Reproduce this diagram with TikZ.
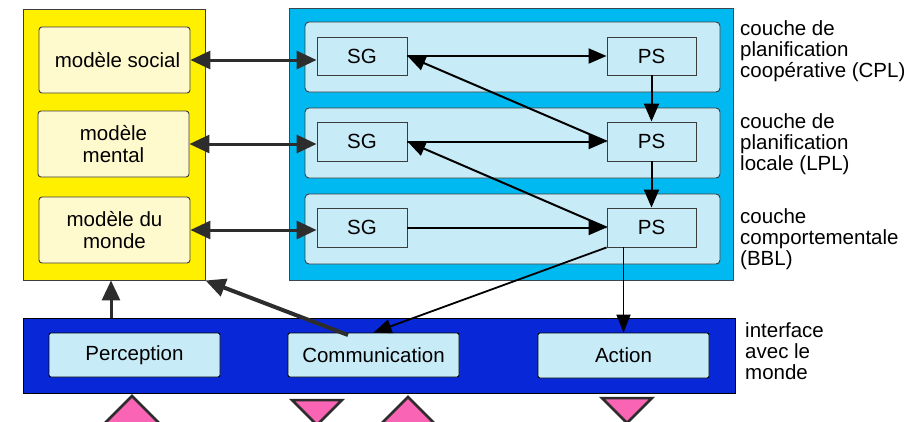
\documentclass[tikz,border=0pt]{standalone}
\usepackage{fontspec}
\setmainfont{Liberation Sans}
\usetikzlibrary{arrows.meta}

\definecolor{modelyellow}{RGB}{255,240,0}
\definecolor{paleyellow}{RGB}{255,250,205}
\definecolor{layercyan}{RGB}{0,185,240}
\definecolor{palecyan}{RGB}{200,235,248}
\definecolor{ifaceblue}{RGB}{8,40,216}
\definecolor{tripink}{RGB}{250,100,180}
\definecolor{arrowgray}{RGB}{45,45,45}
\definecolor{edgegray}{RGB}{60,60,60}

\tikzset{
  box/.style={draw=edgegray, line width=0.9pt, inner sep=0pt, align=center,
    font=\fontsize{20.5}{22}\selectfont},
  modelbox/.style={box, fill=paleyellow, rounded corners=3pt},
  layerbox/.style={draw=edgegray, line width=0.9pt, fill=palecyan, rounded corners=4pt},
  unitbox/.style={box, fill=palecyan},
  ifacebox/.style={box, fill=palecyan, rounded corners=2pt, draw=black},
  sidelabel/.style={anchor=west, align=left, inner sep=0pt,
    font=\fontsize{20.5}{21}\selectfont},
  thickarrow/.style={draw=arrowgray, line width=3pt,
    -{Triangle[length=20pt,width=18pt]}},
  bothways/.style={draw=arrowgray, line width=3pt,
    {Triangle[length=20pt,width=18pt]}-{Triangle[length=20pt,width=18pt]}},
  flow/.style={draw=black, line width=2pt,
    -{Triangle[length=18pt,width=15pt]}},
  thinflow/.style={draw=black, line width=1.8pt,
    -{Triangle[length=18pt,width=14pt]}},
  port/.style={fill=tripink, draw=arrowgray, line width=2.5pt, line join=miter},
}

\begin{document}
\begin{tikzpicture}[x=1pt, y=-1pt]
\useasboundingbox (0,0) rectangle (922,421);

% agent models
\node[draw=edgegray, line width=0.9pt, fill=modelyellow, minimum width=182pt,
  minimum height=271pt, inner sep=0pt] (yellow) at (114,144.5) {};
\node[modelbox, minimum width=151pt, minimum height=66pt] (m1) at (114.5,60) {\hspace*{6pt}modèle social};
\node[modelbox, minimum width=151pt, minimum height=66pt] (m2) at (113.5,144) {modèle\\mental};
\node[modelbox, minimum width=151pt, minimum height=66pt] (m3) at (114.5,230) {modèle du\\monde};

% control layers
\node[draw=black!80!cyan, line width=0.9pt, fill=layercyan, minimum width=444pt,
  minimum height=272pt, inner sep=0pt] (cyan) at (511,144) {};
\node[layerbox, minimum width=415pt, minimum height=70pt, inner sep=0pt] (L1) at (512.5,57) {};
\node[layerbox, minimum width=415pt, minimum height=70pt, inner sep=0pt] (L2) at (512.5,143) {};
\node[layerbox, minimum width=415pt, minimum height=70pt, inner sep=0pt] (L3) at (512.5,229) {};

\node[unitbox, minimum width=90pt, minimum height=38pt] (SG1) at (362,56) {SG};
\node[unitbox, minimum width=90pt, minimum height=39pt] (SG2) at (362,141.5) {SG};
\node[unitbox, minimum width=90pt, minimum height=39pt] (SG3) at (362,227.5) {SG};
\node[unitbox, minimum width=89pt, minimum height=38pt] (PS1) at (651.5,56) {PS};
\node[unitbox, minimum width=89pt, minimum height=39pt] (PS2) at (651.5,141.5) {PS};
\node[unitbox, minimum width=89pt, minimum height=39pt] (PS3) at (651.5,227.5) {PS};

% world interface
\node[draw=black, line width=0.9pt, fill=ifaceblue, minimum width=712pt,
  minimum height=75pt, inner sep=0pt] (iface) at (379,355.5) {};
\node[ifacebox, minimum width=171pt, minimum height=44pt] (perc) at (134.5,355) {Perception};
\node[ifacebox, minimum width=171pt, minimum height=44pt] (comm) at (373.5,355) {Communication};
\node[ifacebox, minimum width=171pt, minimum height=45pt] (act) at (623.5,355.5) {Action};

% layer names
\node[sidelabel] (lab1) at (740,51) {couche de\\planification\\coopérative (CPL)};
\node[sidelabel] (lab2) at (740,144) {couche de\\planification\\locale (LPL)};
\node[sidelabel] (lab3) at (740,239) {couche\\comportementale\\(BBL)};
\node[sidelabel] (lab4) at (745,351) {interface\\avec le\\monde};

% models <-> situation recognition
\draw[bothways] (m1.east) -- (m1.east -| SG1.west);
\draw[bothways] (m2.east) -- (m2.east -| SG2.west);
\draw[bothways] (m3.east) -- (m3.east -| SG3.west);

% situation recognition -> planning
\draw[flow] (SG1.east) -- (PS1.west);
\draw[flow] (SG2.east) -- (PS2.west);
\draw[flow] (SG3.east) -- (PS3.west);
\draw[flow] (PS2.west) -- (SG1.east);
\draw[flow] (PS3.west) -- (SG2.east);
\draw[flow] (PS1.south) -- (PS2.north);
\draw[flow] (PS2.south) -- (PS3.north);

% planning -> interface
\draw[thinflow] (PS3.south west) -- (comm.north);
\draw[thinflow] (act.north |- PS3.south) -- (act.north);

% interface -> models
\coordinate (percout) at (111,318);
\coordinate (commout) at (348,335);
\draw[thickarrow] (percout) -- (percout |- yellow.south);
\draw[thickarrow, line width=4pt] (commout) -- (yellow.south east);

% sensor / effector ports
\begin{scope}
\clip (0,0) rectangle (922,421);
\draw[port] (132,396) -- (103,425) -- (161,425) -- cycle;
\draw[port] (292,400) -- (342,400) -- (317,425) -- cycle;
\draw[port] (408,397) -- (379,426) -- (437,426) -- cycle;
\draw[port] (602,398) -- (652,398) -- (627,423) -- cycle;
\end{scope}
\end{tikzpicture}
\end{document}
